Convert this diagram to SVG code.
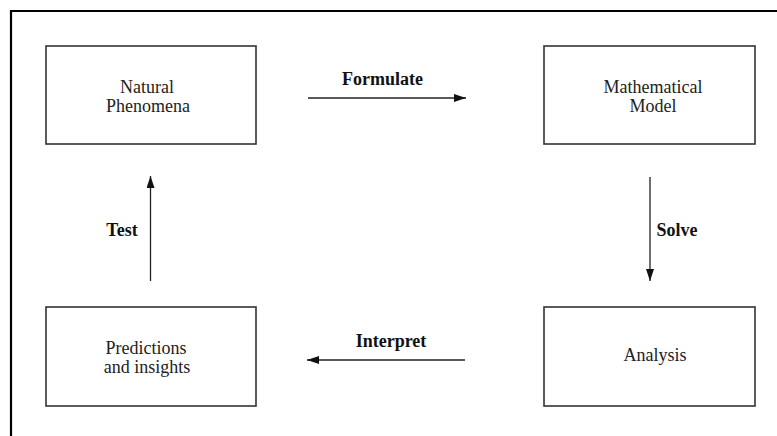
<svg xmlns="http://www.w3.org/2000/svg" width="777" height="436" viewBox="0 0 777 436">
<defs>
<marker id="ah" markerWidth="12" markerHeight="8" refX="12" refY="4" orient="auto" markerUnits="userSpaceOnUse">
<path d="M0,0 L12,4 L0,8 Z" fill="#111"/>
</marker>
<style>
.box{fill:#fff;stroke:#333;stroke-width:1.6}
.t{font-family:"Liberation Serif","Times New Roman",serif;font-size:18px;fill:#222;text-anchor:middle}
.b{font-family:"Liberation Serif","Times New Roman",serif;font-size:18px;font-weight:bold;fill:#111;text-anchor:middle}
.c{stroke:#222;stroke-width:1.3;fill:none;marker-end:url(#ah)}
</style>
</defs>
<rect width="777" height="436" fill="#fff"/>
<path d="M11,436 L11,11 L777,11" fill="none" stroke="#000" stroke-width="2.2"/>
<g id="natural">
<rect class="box" x="46" y="46" width="210" height="98"/>
<text class="t" x="147" y="93">Natural</text>
<text class="t" x="148" y="112">Phenomena</text>
</g>
<g id="model">
<rect class="box" x="544" y="46" width="211" height="98"/>
<text class="t" x="653" y="93">Mathematical</text>
<text class="t" x="653" y="112">Model</text>
</g>
<g id="predictions">
<rect class="box" x="46" y="307" width="210" height="99"/>
<text class="t" x="146" y="354">Predictions</text>
<text class="t" x="147" y="373">and insights</text>
</g>
<g id="analysis">
<rect class="box" x="544" y="307" width="211" height="99"/>
<text class="t" x="655" y="361">Analysis</text>
</g>
<g id="connectors">
<line class="c" x1="308" y1="98" x2="466" y2="98"/>
<line class="c" x1="650" y1="177" x2="650" y2="281"/>
<line class="c" x1="465" y1="360" x2="307" y2="360"/>
<line class="c" x1="150.5" y1="281" x2="150.5" y2="176"/>
<text class="b" x="382.5" y="85">Formulate</text>
<text class="b" x="677" y="236">Solve</text>
<text class="b" x="391" y="347">Interpret</text>
<text class="b" x="122" y="236">Test</text>
</g>
</svg>
